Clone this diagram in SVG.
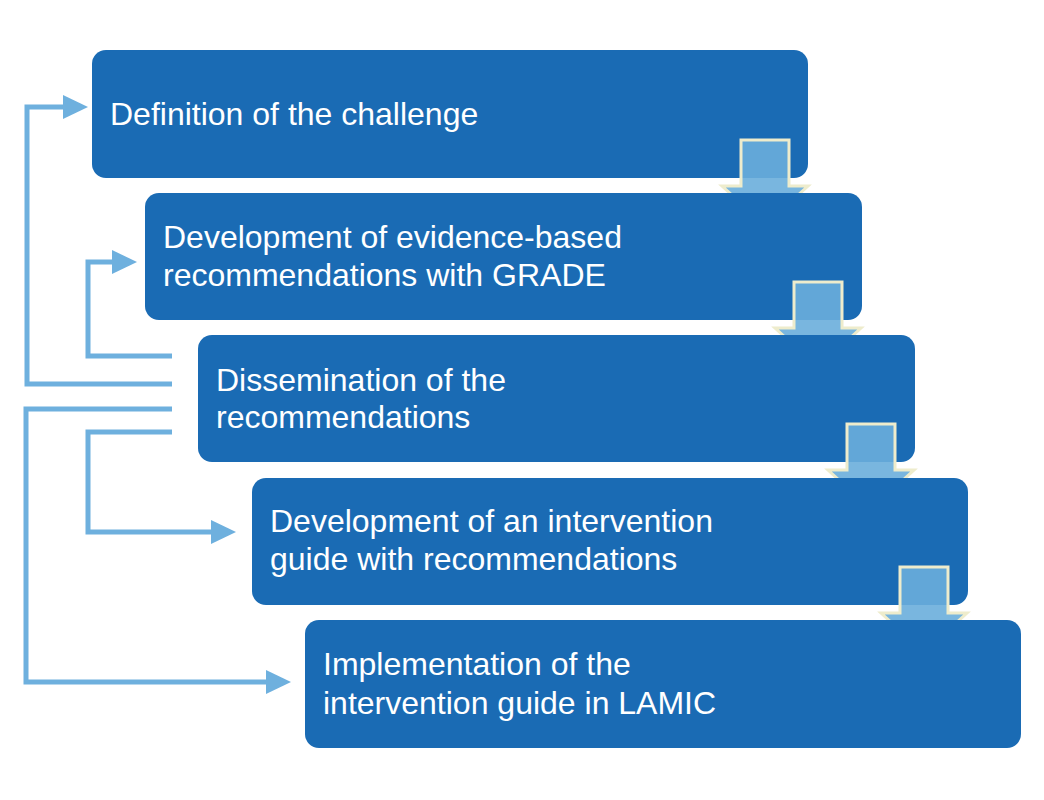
<svg xmlns="http://www.w3.org/2000/svg" width="1044" height="800" viewBox="0 0 1044 800">
<style>
.box{fill:#1a6bb4}
.t{font-family:"Liberation Sans",Arial,sans-serif;font-size:32px;fill:#fff}
.c{fill:none;stroke:#6eb0de;stroke-width:5}
.da{fill:#6aaedc;fill-opacity:0.9;stroke:#eeeccc;stroke-width:3}
</style>
<defs><marker id="ah" markerWidth="6" markerHeight="6" refX="1" refY="3" orient="auto" markerUnits="strokeWidth"><path d="M0,0.6 L5,3 L0,5.4 Z" fill="#6eb0de"/></marker></defs>
<rect width="1044" height="800" fill="#fff"/>
<g id="n1"><rect class="box" x="92" y="50" width="716" height="128" rx="14"/><text class="t" x="110" y="125">Definition of the challenge</text></g>
<g id="a1"><path class="da" d="M741,140 H789 V186 H808 L765,225 L722,186 H741 Z"/></g>
<g id="n2"><rect class="box" x="145" y="193" width="717" height="127" rx="14"/><text class="t" x="163" y="248">Development of evidence-based</text><text class="t" x="163" y="286">recommendations with GRADE</text></g>
<g id="a2"><path class="da" d="M794,282 H842 V328 H861 L818,367 L775,328 H794 Z"/></g>
<g id="n3"><rect class="box" x="198" y="335" width="717" height="127" rx="14"/><text class="t" x="216" y="391">Dissemination of the</text><text class="t" x="216" y="428">recommendations</text></g>
<g id="a3"><path class="da" d="M847,424 H895 V470 H914 L871,509 L828,470 H847 Z"/></g>
<g id="n4"><rect class="box" x="252" y="478" width="716" height="127" rx="14"/><text class="t" x="270" y="532">Development of an intervention</text><text class="t" x="270" y="570">guide with recommendations</text></g>
<g id="a4"><path class="da" d="M900,567 H948 V613 H967 L924,652 L881,613 H900 Z"/></g>
<g id="n5"><rect class="box" x="305" y="620" width="716" height="128" rx="14"/><text class="t" x="323" y="675">Implementation of the</text><text class="t" x="323" y="714">intervention guide in LAMIC</text></g>
<g id="connectors">
<path class="c" d="M172,384 H27 V107 H68" marker-end="url(#ah)"/>
<path class="c" d="M172,356 H88 V262 H117" marker-end="url(#ah)"/>
<path class="c" d="M172,432 H88 V532 H216" marker-end="url(#ah)"/>
<path class="c" d="M172,409 H26 V682 H271" marker-end="url(#ah)"/>
</g>
</svg>
